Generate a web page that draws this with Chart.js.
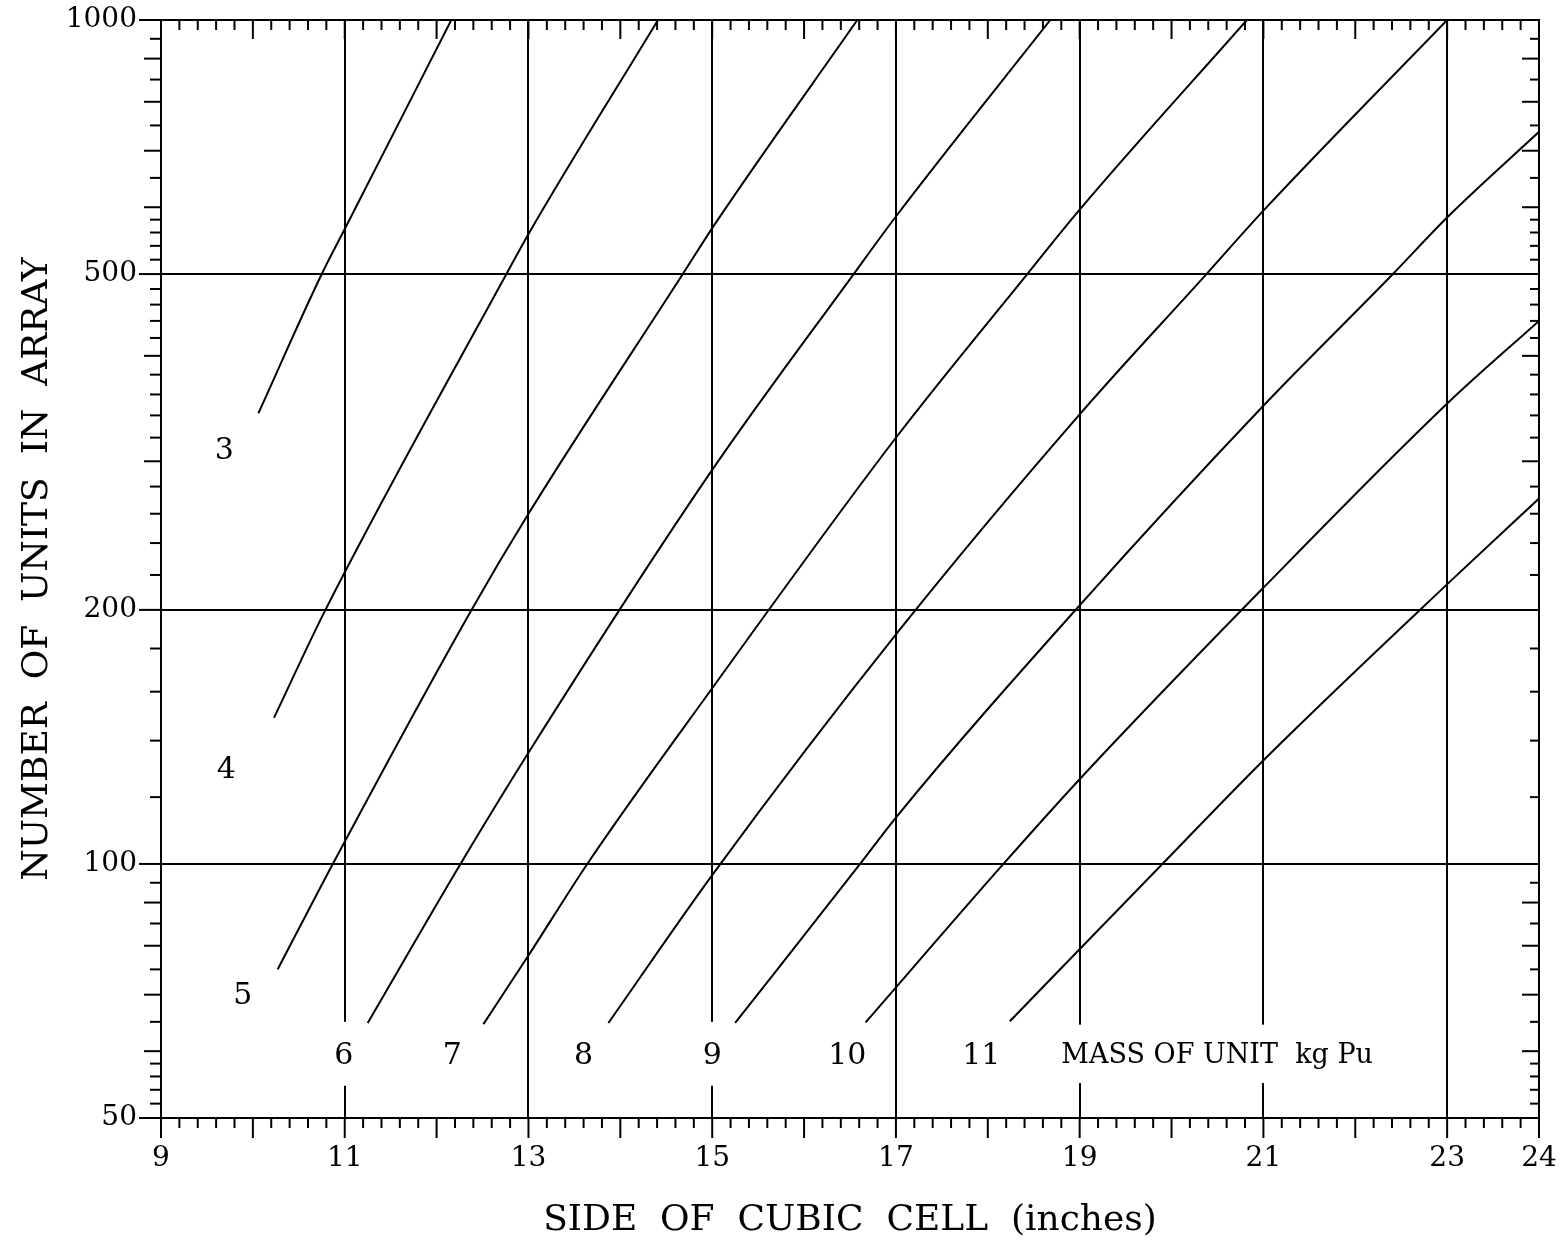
<!DOCTYPE html>
<html>
<head>
<meta charset="utf-8">
<title>Number of units in array vs side of cubic cell</title>
<script src="https://cdn.jsdelivr.net/npm/chart.js@4.4.1/dist/chart.umd.min.js"></script>
<style>
  html, body { margin: 0; padding: 0; background: #fff; }
  #wrap { width: 1561px; height: 1247px; }
</style>
</head>
<body>
<div id="wrap"><canvas id="myChart" width="1561" height="1247"></canvas></div>
<script>
// mass of unit (kg Pu) for each curve
const massLabels = ["3", "4", "5", "6", "7", "8", "9", "10", "11"];

// side of cubic cell (inches) and number of units
const side3 = [10.06, 10.75, 11.01, 12.16];
const units3 = [342, 500, 568, 1000];

const side4 = [10.23, 10.79, 12.76, 13.01, 14.41];
const units4 = [149, 200, 500, 560, 1000];

const side5 = [10.27, 10.87, 12.38, 13.01, 14.68, 15.02, 16.58];
const units5 = [75, 100, 200, 261, 500, 571, 1000];

const side6 = [11.25, 12.26, 13.01, 15.0, 16.54, 17.01, 18.68];
const units6 = [64.8, 100, 136, 293, 500, 587, 1000];

const side7 = [12.51, 13.01, 13.64, 15.0, 17.01, 18.43, 19.0, 20.82];
const units7 = [64.6, 78.2, 100, 161.5, 321, 500, 596, 1000];

const side8 = [13.87, 15.0, 17.05, 19.0, 20.38, 21.01, 23.0];
const units8 = [64.8, 97, 190, 341, 500, 596, 1000];

const side9 = [15.25, 16.61, 17.0, 19.0, 21.01, 22.41, 23.01, 24.0];
const units9 = [64.8, 100, 113.5, 202.5, 350, 500, 585, 737];

const side10 = [16.67, 18.17, 19.0, 21.01, 23.01, 24.0];
const units10 = [64.9, 100, 126, 213, 352, 440];

const side11 = [18.24, 19.9, 21.01, 23.01, 24.0];
const units11 = [65.1, 100, 133, 215, 271];

// axis tick labels and tick marks
const xTickLabels = [9, 11, 13, 15, 17, 19, 21, 23, 24];
const xGridValues = [11, 13, 15, 17, 19, 21, 23];
const yTickLabels = [50, 100, 200, 500, 1000];
const yMinorTicks = [52, 54, 56, 58, 60, 65, 70, 75, 80, 85, 90, 95,
  120, 140, 160, 180,
  220, 240, 260, 280, 300, 320, 340, 360, 380, 400, 420, 440, 460, 480,
  520, 540, 560, 580, 600, 650, 700, 750, 800, 850, 900, 950];
const yLongTicks = [60, 70, 80, 90, 300, 400, 600, 700, 800, 900];

const caption = "MASS OF UNIT  kg Pu";
const serif = "'DejaVu Serif', 'Liberation Serif', serif";

const curves = [
  [side3, units3], [side4, units4], [side5, units5], [side6, units6],
  [side7, units7], [side8, units8], [side9, units9], [side10, units10],
  [side11, units11]
];

const datasets = curves.map(function (c, i) {
  return {
    label: massLabels[i] + " kg Pu",
    data: c[0].map(function (x, j) { return { x: x, y: c[1][j] }; }),
    borderColor: "#000",
    borderWidth: 2,
    pointRadius: 0,
    cubicInterpolationMode: "monotone",
    fill: false
  };
});

function line(ctx, x1, y1, x2, y2) {
  ctx.beginPath();
  ctx.moveTo(x1, y1);
  ctx.lineTo(x2, y2);
  ctx.stroke();
}

const paperPlugin = {
  id: "paper",
  beforeDatasetsDraw(chart) {
    // breaks in the grid lines behind the bottom labels
    const ctx = chart.ctx, xs = chart.scales.x, ys = chart.scales.y;
    const gaps = [[11, 65, 54.6], [15, 65, 54.6], [19, 64.5, 55], [21, 64.5, 55]];
    ctx.save();
    ctx.fillStyle = "#fff";
    gaps.forEach(function (g) {
      const px = xs.getPixelForValue(g[0]);
      const t = ys.getPixelForValue(g[1]);
      const b = ys.getPixelForValue(g[2]);
      ctx.fillRect(px - 3, t, 6, b - t);
    });
    ctx.restore();
  },
  afterDatasetsDraw(chart) {
    const ctx = chart.ctx, xs = chart.scales.x, ys = chart.scales.y;
    // curve labels, placed in data coordinates
    const spots = [[9.69, 308], [9.71, 129], [9.89, 69.7], [10.99, 59.2], [12.17, 59.2],
      [13.6, 59.2], [15.0, 59.2], [16.47, 59.2], [17.93, 59.2]];
    ctx.save();
    ctx.fillStyle = "#000";
    ctx.font = "30px " + serif;
    ctx.textAlign = "center";
    ctx.textBaseline = "middle";
    massLabels.forEach(function (t, i) {
      ctx.fillText(t, xs.getPixelForValue(spots[i][0]), ys.getPixelForValue(spots[i][1]));
    });
    ctx.font = "27px " + serif;
    ctx.textAlign = "left";
    ctx.fillText(caption, xs.getPixelForValue(18.8), ys.getPixelForValue(59.2));
    ctx.restore();
  },
  afterDraw(chart) {
    const ctx = chart.ctx, xs = chart.scales.x, ys = chart.scales.y;
    const a = chart.chartArea;
    ctx.save();
    ctx.strokeStyle = "#000";
    ctx.lineWidth = 2;
    ctx.strokeRect(a.left, a.top, a.right - a.left, a.bottom - a.top);

    // y ticks: outward on the left, inward on the right
    yMinorTicks.forEach(function (v) {
      const py = ys.getPixelForValue(v);
      const long = yLongTicks.indexOf(v) >= 0;
      line(ctx, a.left - (long ? 17 : 11), py, a.left, py);
      line(ctx, a.right - (long ? 17 : 9), py, a.right, py);
    });
    yTickLabels.forEach(function (v) {
      const py = ys.getPixelForValue(v);
      line(ctx, a.left - 22, py, a.left, py);
    });

    // x ticks every 0.2 in: inward at the top, outward at the bottom
    for (let i = 46; i < 120; i++) {
      const v = i / 5;
      const px = xs.getPixelForValue(v);
      const whole = i % 5 === 0;
      line(ctx, px, a.top, px, a.top + (whole ? 19 : 10));
      line(ctx, px, a.bottom, px, a.bottom + (whole ? 20 : 10));
    }
    [9, 24].forEach(function (v) {
      const px = xs.getPixelForValue(v);
      line(ctx, px, a.bottom, px, a.bottom + 20);
    });
    ctx.restore();
  }
};

const ctx = document.getElementById("myChart").getContext("2d");
const chart = new Chart(ctx, {
  type: "line",
  data: { datasets: datasets },
  plugins: [paperPlugin],
  options: {
    responsive: false,
    animation: false,
    devicePixelRatio: 1,
    layout: { padding: { top: 20, right: 22, left: 0, bottom: 0 } },
    plugins: {
      legend: { display: false },
      tooltip: { enabled: false }
    },
    scales: {
      x: {
        type: "linear",
        min: 9,
        max: 24,
        afterFit: function (scale) {
          scale.height = 129;
          scale.paddingLeft = 0;
          scale.paddingRight = 0;
        },
        afterBuildTicks: function (scale) {
          scale.ticks = xTickLabels.map(function (v) { return { value: v }; });
        },
        ticks: {
          color: "#000",
          padding: 24,
          maxRotation: 0,
          autoSkip: false,
          font: { family: serif, size: 28 },
          callback: function (v) { return String(v); }
        },
        grid: {
          drawTicks: false,
          lineWidth: 2,
          color: function (c) {
            return (c.tick && xGridValues.indexOf(c.tick.value) >= 0) ? "#000" : "rgba(0,0,0,0)";
          }
        },
        border: { display: false },
        title: {
          display: true,
          text: "SIDE  OF  CUBIC  CELL  (inches)",
          color: "#000",
          font: { family: serif, size: 36 },
          padding: { top: 0, bottom: 5 }
        }
      },
      y: {
        type: "logarithmic",
        min: 50,
        max: 1000,
        afterFit: function (scale) {
          scale.width = 161;
          scale.paddingTop = 0;
          scale.paddingBottom = 0;
        },
        afterBuildTicks: function (scale) {
          scale.ticks = yTickLabels.map(function (v) { return { value: v }; });
        },
        ticks: {
          color: "#000",
          padding: 24,
          autoSkip: false,
          font: { family: serif, size: 28 },
          callback: function (v) { return String(v); }
        },
        grid: {
          drawTicks: false,
          lineWidth: 2,
          color: function (c) {
            const v = c.tick && c.tick.value;
            return (v === 100 || v === 200 || v === 500) ? "#000" : "rgba(0,0,0,0)";
          }
        },
        border: { display: false },
        title: {
          display: true,
          text: "NUMBER  OF  UNITS  IN  ARRAY",
          color: "#000",
          font: { family: serif, size: 36 },
          padding: { top: 16, bottom: 0 }
        }
      }
    }
  }
});
</script>
</body>
</html>
